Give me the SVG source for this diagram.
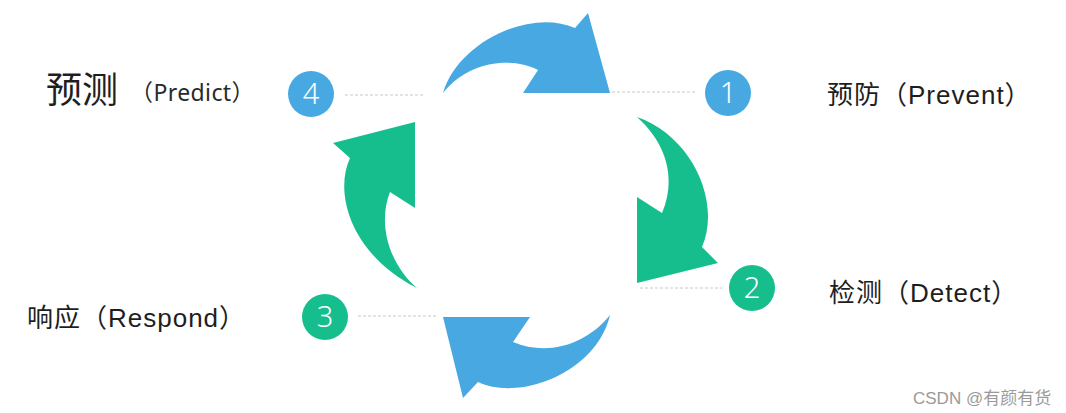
<svg xmlns="http://www.w3.org/2000/svg" width="1066" height="413" viewBox="0 0 1066 413">
<style>
.blue{fill:#48a9e2}
.green{fill:#16be8e}
.num{font-family:"Noto Sans","Liberation Sans",sans-serif;font-weight:300;font-size:29px;fill:#fff;text-anchor:middle}
.lbl{font-family:"Liberation Sans","Noto Sans CJK SC",sans-serif;font-size:26px;letter-spacing:1px;fill:#1e1e1e}
.dash{stroke:#c8c8c8;stroke-width:1;stroke-dasharray:3 2;fill:none}
</style>
<rect width="1066" height="413" fill="#fff"/>
<g id="connectors">
<line class="dash" x1="345" y1="95" x2="425" y2="95"/>
<line class="dash" x1="612" y1="92" x2="697" y2="92"/>
<line class="dash" x1="640" y1="288" x2="722" y2="288"/>
<line class="dash" x1="358" y1="316" x2="437" y2="316"/>
</g>
<g id="arrow-top"><path class="blue" d="M443,93 C458,42 530,8 575,28 L588,13 L610,93 L523,93 L538,70 C510,56 468,62 443,93 Z"/></g>
<g id="arrow-right"><path class="green" d="M637,117 C690,135 722,200 702,247 L718,263 L637,283 L637,197 L662,213 C676,180 668,145 637,117 Z"/></g>
<g id="arrow-bottom"><path class="blue" d="M610,315 C597,372 520,402 478,382 L463,398 L443,317 L530,317 L513,342 C546,356 585,346 610,315 Z"/></g>
<g id="arrow-left"><path class="green" d="M417,288 C353,256 333,195 350,158 L333,143 L415,122 L415,208 L390,192 C377,225 390,265 417,288 Z"/></g>
<g id="node-1">
<circle cx="728" cy="93" r="23" class="blue"/>
<text x="728" y="103" class="num">1</text>
<text x="827" y="104" class="lbl">预防（Prevent）</text>
</g>
<g id="node-2">
<circle cx="752" cy="288" r="23" class="green"/>
<text x="752" y="298" class="num">2</text>
<text x="829" y="302" class="lbl">检测（Detect）</text>
</g>
<g id="node-3">
<circle cx="325" cy="317" r="23" class="green"/>
<text x="325" y="327" class="num">3</text>
<text x="27" y="327" class="lbl">响应（Respond）</text>
</g>
<g id="node-4">
<circle cx="311" cy="94" r="23" class="blue"/>
<text x="311" y="104" class="num">4</text>
<text x="46" y="103" font-family="'Noto Sans CJK SC',sans-serif" font-size="36" fill="#1e1e1e">预测</text>
<text x="130" y="101" font-family="'Noto Sans','Noto Sans CJK SC',sans-serif" font-size="23" letter-spacing="0.4" fill="#2a2a2a">（Predict）</text>
</g>
<text x="913" y="404" font-family="'Liberation Sans','Noto Sans CJK SC',sans-serif" font-size="17" fill="#9a9a9a">CSDN @有颜有货</text>
</svg>
